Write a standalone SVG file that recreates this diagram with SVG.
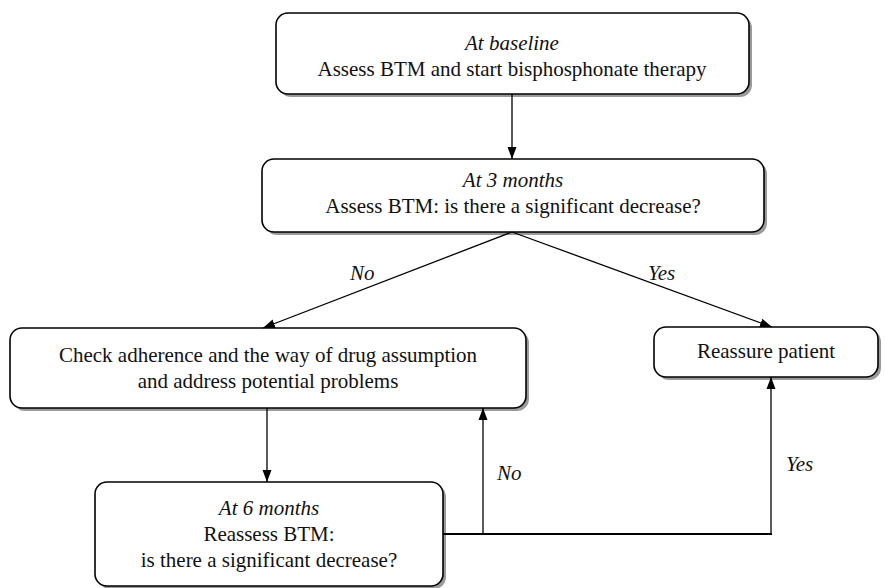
<svg xmlns="http://www.w3.org/2000/svg" width="885" height="588" viewBox="0 0 885 588">
<style>
.box{fill:#fff;stroke:#000;stroke-width:1.6}
.sh{fill:#9a9a9a}
.t{font-family:"Liberation Serif","Times New Roman",serif;font-size:21px;fill:#111;text-anchor:middle}
.i{font-style:italic}
.l{stroke:#000;stroke-width:1.3;fill:none}
.lb{font-family:"Liberation Serif","Times New Roman",serif;font-size:21px;font-style:italic;fill:#111}
</style>
<defs>
<marker id="ah" viewBox="0 0 12 10" refX="12" refY="5" markerWidth="12" markerHeight="10" markerUnits="userSpaceOnUse" orient="auto">
<path d="M0,0.5 L12,5 L0,9.5 Z" fill="#000"/>
</marker>
</defs>
<g id="n1">
<rect class="sh" x="279" y="16" width="473" height="81" rx="12"/>
<rect class="box" x="276" y="13" width="473" height="81" rx="12"/>
<text class="t i" x="512" y="50">At baseline</text>
<text class="t" x="512" y="76">Assess BTM and start bisphosphonate therapy</text>
</g>
<g id="n2">
<rect class="sh" x="265" y="162" width="502" height="73" rx="12"/>
<rect class="box" x="262" y="159" width="502" height="73" rx="12"/>
<text class="t i" x="513" y="187">At 3 months</text>
<text class="t" x="513" y="213">Assess BTM: is there a significant decrease?</text>
</g>
<g id="n3">
<rect class="sh" x="13" y="331" width="516" height="80" rx="12"/>
<rect class="box" x="10" y="328" width="516" height="80" rx="12"/>
<text class="t" x="268" y="362">Check adherence and the way of drug assumption</text>
<text class="t" x="268" y="388">and address potential problems</text>
</g>
<g id="n4">
<rect class="sh" x="657" y="330" width="224" height="50" rx="12"/>
<rect class="box" x="654" y="327" width="224" height="50" rx="12"/>
<text class="t" x="766" y="358">Reassure patient</text>
</g>
<g id="n5">
<rect class="sh" x="98" y="485" width="348" height="104" rx="12"/>
<rect class="box" x="95" y="482" width="348" height="104" rx="12"/>
<text class="t i" x="269" y="515">At 6 months</text>
<text class="t" x="269" y="541">Reassess BTM:</text>
<text class="t" x="269" y="567">is there a significant decrease?</text>
</g>
<g id="connectors">
<line class="l" x1="512" y1="94" x2="512" y2="159" marker-end="url(#ah)"/>
<line class="l" x1="512" y1="232" x2="263" y2="328" marker-end="url(#ah)"/>
<line class="l" x1="512" y1="232" x2="772" y2="327" marker-end="url(#ah)"/>
<line class="l" x1="267" y1="408" x2="267" y2="482" marker-end="url(#ah)"/>
<line class="l" x1="443" y1="534" x2="772" y2="534" style="stroke-width:2"/>
<line class="l" x1="483" y1="534" x2="483" y2="408" marker-end="url(#ah)"/>
<line class="l" x1="771" y1="534" x2="771" y2="377" marker-end="url(#ah)"/>
<text class="lb" x="350" y="280">No</text>
<text class="lb" x="648" y="280">Yes</text>
<text class="lb" x="497" y="480">No</text>
<text class="lb" x="786" y="471">Yes</text>
</g>
</svg>
